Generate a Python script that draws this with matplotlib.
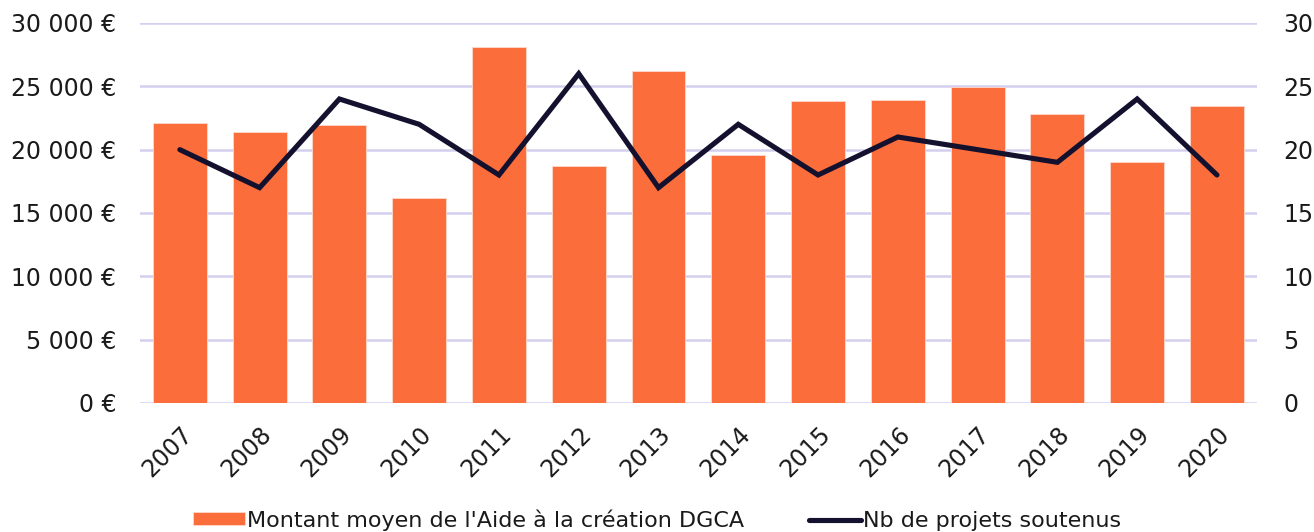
import matplotlib.pyplot as plt
import numpy as np

years = ["2007", "2008", "2009", "2010", "2011", "2012", "2013",
         "2014", "2015", "2016", "2017", "2018", "2019", "2020"]
montant = [22100, 21400, 21950, 16200, 28100, 18700, 26200,
           19600, 23850, 23950, 24950, 22850, 19000, 23450]
nb_projets = [20, 17, 24, 22, 18, 26, 17, 22, 18, 21, 20, 19, 24, 18]

bar_color = "#FB6D3B"
line_color = "#14112E"
grid_color = "#D4CFEE"
text_color = "#1a1a1a"

plt.rcParams["font.family"] = ["DejaVu Sans"]

fig = plt.figure(figsize=(13.14, 5.32), dpi=100)
ax = fig.add_axes([0.1065, 0.2425, 0.85, 0.7143])
ax2 = ax.twinx()

x = np.arange(len(years))
bars = ax.bar(x, montant, width=0.675, color=bar_color, zorder=2,
              edgecolor="#FCD9CC", linewidth=0.6,
              label="Montant moyen de l'Aide à la création DGCA")
line, = ax2.plot(x, nb_projets, color=line_color, linewidth=3.7,
                 solid_capstyle="round", solid_joinstyle="miter",
                 label="Nb de projets soutenus", zorder=3)

ax.set_xlim(-0.5, len(years) - 0.5)
ax.set_ylim(0, 30000)
ax2.set_ylim(0, 30)
ax.set_yticks(range(0, 30001, 5000))
ax.set_yticklabels([f"{v:,}".replace(",", " ") + " €" for v in range(0, 30001, 5000)])
ax2.set_yticks(range(0, 31, 5))

ax.yaxis.grid(True, color=grid_color, linewidth=1.8, zorder=0)
ax.set_axisbelow(True)
for a in (ax, ax2):
    for s in a.spines.values():
        s.set_visible(False)
    a.tick_params(length=0, labelsize=17, labelcolor=text_color)
ax.tick_params(axis="y", pad=17)
ax2.tick_params(axis="y", pad=19)

ax.set_xticks(x)
ax.set_xticklabels(years, rotation=45, ha="right", rotation_mode="anchor")
ax.tick_params(axis="x", pad=14)

ax2.set_zorder(ax.get_zorder() + 1)
ax2.patch.set_visible(False)

fig.legend([bars, line], [bars.get_label(), line.get_label()],
           loc="lower center", bbox_to_anchor=(0.5, -0.035), ncol=2,
           frameon=False, fontsize=16, handlelength=2.35, handleheight=0.5,
           handletextpad=0.1, columnspacing=2.9, labelcolor=text_color)

fig.savefig("out.png", dpi=100)
